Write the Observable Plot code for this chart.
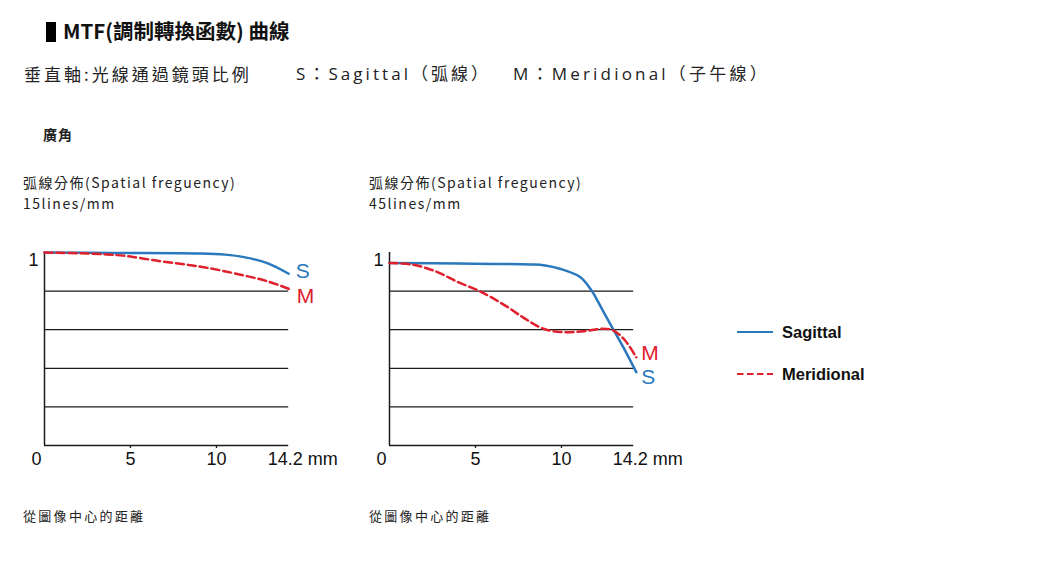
<!DOCTYPE html>
<html><head><meta charset="utf-8">
<script src="https://cdn.jsdelivr.net/npm/d3@7"></script>
<script src="https://cdn.jsdelivr.net/npm/@observablehq/plot@0.6"></script>
<style>
html,body{margin:0;padding:0;background:#fff;}
body{width:1040px;height:565px;position:relative;overflow:hidden;font-family:"Noto Sans CJK TC","Noto Sans",sans-serif;color:#222;}
.abs{position:absolute;white-space:nowrap;}
.chart{position:absolute;}
.chart svg{overflow:visible;}
.sub{font-family:"Open Sans","Noto Sans CJK TC",sans-serif;font-size:17px;line-height:26px;top:61px;}
</style></head><body>
<div class="abs" style="left:46px;top:16px;font-size:20.5px;font-weight:bold;line-height:28px;color:#111"><span style="display:inline-block;width:10px;height:20px;background:#000;vertical-align:-3px;margin-right:7px"></span>MTF(調制轉換函數) 曲線</div>
<div class="abs" style="left:24px;top:61px;font-size:17px;letter-spacing:3px;line-height:26px">垂直軸:光線通過鏡頭比例</div>
<div class="abs sub" id="subS" style="left:296px;letter-spacing:3.05px"></div>
<div class="abs sub" id="subM" style="left:513px;letter-spacing:3.2px"></div>
<div class="abs" style="left:43px;top:124px;font-size:14px;font-weight:bold;letter-spacing:1px;line-height:20px">廣角</div>
<div class="abs" id="cap1" style="left:23px;top:172px;font-size:14px;letter-spacing:1.5px;line-height:21px"></div>
<div class="abs" id="cap2" style="left:369px;top:172px;font-size:14px;letter-spacing:1.5px;line-height:21px"></div>
<div class="abs" id="foot1" style="left:23px;top:506px;font-size:13px;letter-spacing:2.3px;line-height:20px"></div>
<div class="abs" id="foot2" style="left:369px;top:506px;font-size:13px;letter-spacing:2.3px;line-height:20px"></div>
<div class="chart" id="c1" style="left:0px;top:240px"></div>
<div class="chart" id="c2" style="left:345.3px;top:240px"></div>
<div class="abs" id="legend" style="left:737px;top:318px;font-family:'Liberation Sans',Arial,sans-serif;font-weight:bold;font-size:16.5px;color:#111"></div>
<script>
// ---- data ----
const chartTitles = ["弧線分佈(Spatial freguency)", "弧線分佈(Spatial freguency)"];
const chartFreqs = ["15lines/mm", "45lines/mm"];
const footText = "從圖像中心的距離";
const subtitleS = "S：Sagittal（弧線）";
const subtitleM = "M：Meridional（子午線）";
const xTicks = [0, 5, 10, 14.2];
const xTickLabels = ["0", "5", "10", "14.2 mm"];
const yTickValues = [1];
const yTickLabels = ["1"];
const yGrid = [0.2, 0.4, 0.6, 0.8];
const seriesNames = ["Sagittal", "Meridional"];
const seriesShort = ["S", "M"];
const seriesColors = ["#2a78bd", "#e0202c"];

// 15 lines/mm
const x15S = [0, 4, 9.1, 10.5, 11.6, 12.95, 14.2];
const y15S = [1.0, 0.998, 0.995, 0.989, 0.976, 0.945, 0.89];
const x15M = [0, 2, 3.6, 4.8, 6.5, 8, 9.5, 11.6, 13, 14.2];
const y15M = [1.0, 0.996, 0.99, 0.981, 0.958, 0.94, 0.92, 0.881, 0.85, 0.812];
// 45 lines/mm
const x45S = [0, 4, 8.2, 9.05, 9.9, 11.1, 11.77, 12.35, 13.02, 13.7, 14.35];
const y45S = [0.945, 0.943, 0.938, 0.933, 0.916, 0.872, 0.80, 0.708, 0.60, 0.492, 0.38];
const x45M = [0, 1.3, 2.66, 4, 5.37, 6.73, 7.9, 8.95, 10.1, 11.3, 12.4, 13.0, 13.7, 14.35];
const y45M = [0.945, 0.938, 0.903, 0.846, 0.794, 0.725, 0.656, 0.605, 0.587, 0.592, 0.605, 0.597, 0.544, 0.457];

// ---- build ----
const zip = (xs, ys) => xs.map((x, i) => ({x, y: ys[i]}));
const tickRows = xTicks.map((v, i) => ({v, label: xTickLabels[i]}));
const tickFont = "'Liberation Sans', Arial, sans-serif";

function chart(sRows, mRows, labelOffsets) {
  const [blue, red] = seriesColors;
  return Plot.plot({
    width: 350, height: 240,
    marginTop: 12, marginBottom: 35, marginLeft: 44, marginRight: 61.8,
    x: {domain: [0, 14.2], axis: null},
    y: {domain: [0, 1], axis: null},
    style: {fontFamily: tickFont, fontSize: "18px", color: "#111", background: "transparent", overflow: "visible"},
    marks: [
      Plot.ruleY(yGrid, {x1: 0, x2: 14.2, stroke: "#1a1a1a", strokeWidth: 1.2}),
      Plot.ruleY([0], {x1: 0, x2: 14.2, stroke: "#1a1a1a", strokeWidth: 1.5}),
      Plot.ruleX([0], {y1: 0, y2: 1, stroke: "#1a1a1a", strokeWidth: 1.5}),
      Plot.axisX({ticks: xTicks.slice(1, -1), tickSize: 3, tickFormat: () => "", stroke: "#1a1a1a", strokeWidth: 1.3}),
      Plot.text(tickRows.filter((d, i) => i === 0), {x: "v", y: () => 0, text: "label", dy: 14, dx: -8, fill: "#111"}),
      Plot.text(tickRows.filter((d, i) => i > 0 && i < tickRows.length - 1), {x: "v", y: () => 0, text: "label", dy: 14, fill: "#111"}),
      Plot.text(tickRows.filter((d, i) => i === tickRows.length - 1), {x: "v", y: () => 0, text: "label", dy: 14, dx: -21, textAnchor: "start", fill: "#111", letterSpacing: "-0.5px"}),
      Plot.text(yTickValues.map((v, i) => ({v, label: yTickLabels[i]})), {x: () => 0, y: "v", text: "label", textAnchor: "end", dx: -6, dy: 8, fill: "#111"}),
      Plot.line(sRows, {x: "x", y: "y", stroke: blue, strokeWidth: 2.5, curve: "catmull-rom"}),
      Plot.line(mRows, {x: "x", y: "y", stroke: red, strokeWidth: 2.5, strokeDasharray: "8,4", curve: "catmull-rom"}),
      Plot.text(sRows, Plot.selectLast({x: "x", y: "y", text: () => seriesShort[0], fill: blue, fontSize: 21, textAnchor: "start", dx: labelOffsets.s[0], dy: labelOffsets.s[1]})),
      Plot.text(mRows, Plot.selectLast({x: "x", y: "y", text: () => seriesShort[1], fill: red, fontSize: 21, textAnchor: "start", dx: labelOffsets.m[0], dy: labelOffsets.m[1]}))
    ]
  });
}

document.getElementById("c1").append(chart(zip(x15S, y15S), zip(x15M, y15M), {s: [7, -2], m: [8, 7]}));
document.getElementById("c2").append(chart(zip(x45S, y45S), zip(x45M, y45M), {s: [5, 5], m: [5, -4]}));

document.getElementById("subS").textContent = subtitleS;
document.getElementById("subM").textContent = subtitleM;
document.getElementById("cap1").innerHTML = chartTitles[0] + "<br>" + chartFreqs[0];
document.getElementById("cap2").innerHTML = chartTitles[1] + "<br>" + chartFreqs[1];
document.getElementById("foot1").textContent = footText;
document.getElementById("foot2").textContent = footText;

const leg = document.getElementById("legend");
seriesNames.forEach((name, i) => {
  const row = document.createElement("div");
  row.style.cssText = "display:flex;align-items:center;height:28px;margin-bottom:14px";
  row.innerHTML = `<svg width="38" height="10" style="margin-right:7px"><line x1="0" x2="36" y1="5" y2="5" stroke="${seriesColors[i]}" stroke-width="2.2" ${i === 1 ? 'stroke-dasharray="6.5,3.5"' : ""}/></svg><span>${name}</span>`;
  leg.append(row);
});
</script>
</body></html>
